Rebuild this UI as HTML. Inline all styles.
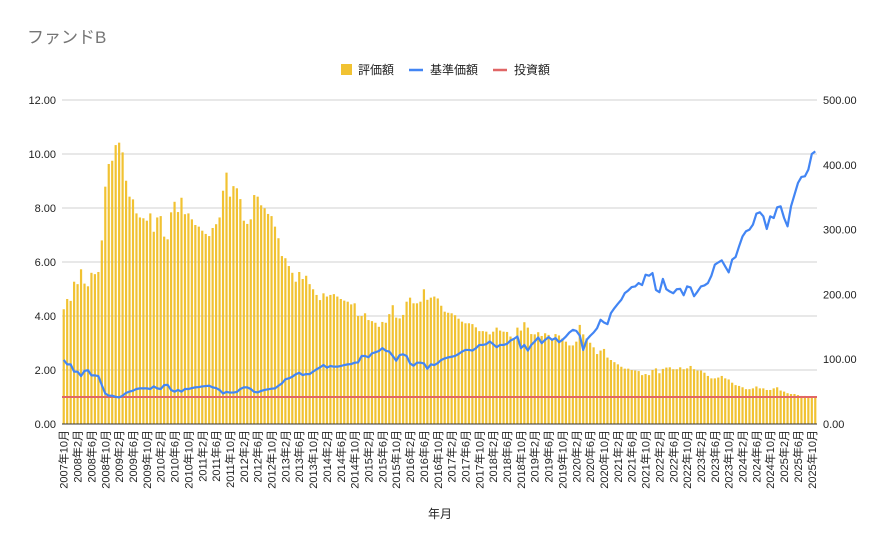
<!DOCTYPE html>
<html><head><meta charset="utf-8">
<style>
html,body{margin:0;padding:0;background:#fff;}
svg{display:block;font-family:"Liberation Sans","Noto Sans CJK JP",sans-serif;}
</style></head>
<body>
<svg id="chart" width="886" height="548" viewBox="0 0 886 548" xmlns="http://www.w3.org/2000/svg">
<rect width="886" height="548" fill="#fff"/>
<text x="27" y="43" font-size="17" fill="#757575">ファンドB</text>
<g font-size="12" fill="#222">
 <g><rect x="341" y="64" width="11" height="11" fill="#f1c232"/><text x="358" y="74">評価額</text></g>
 <g><line x1="409" y1="70" x2="423" y2="70" stroke="#4285f4" stroke-width="2.5"/><text x="430" y="74">基準価額</text></g>
 <g><line x1="493" y1="70" x2="507" y2="70" stroke="#e06666" stroke-width="2.5"/><text x="514" y="74">投資額</text></g>
</g>
<g id="grid"></g><g id="bars"></g><g id="lines"></g><g id="axes"></g>
<text x="440" y="518" font-size="12" text-anchor="middle" fill="#222">年月</text>
</svg>
<script>
const valuation = [4.25,4.63,4.56,5.27,5.18,5.73,5.2,5.1,5.6,5.55,5.63,6.8,8.79,9.63,9.75,10.33,10.42,10.06,9.01,8.42,8.32,7.8,7.65,7.62,7.53,7.8,7.12,7.65,7.7,6.94,6.84,7.84,8.23,7.85,8.38,7.77,7.8,7.58,7.37,7.31,7.16,7.04,6.96,7.26,7.4,7.65,8.64,9.31,8.42,8.81,8.73,8.33,7.53,7.41,7.58,8.48,
8.42,8.1,7.99,7.78,7.7,7.31,6.88,6.22,6.14,5.85,5.6,5.27,5.63,5.37,5.49,5.18,4.99,4.78,4.59,4.84,4.72,4.78,4.81,4.72,4.63,4.57,4.53,4.43,4.47,4.0,4.0,4.1,3.85,3.81,3.75,3.6,3.78,3.75,4.07,4.4,3.94,3.91,4.04,4.53,4.68,4.47,4.47,4.53,4.99,4.6,4.68,4.72,4.65,
4.38,4.16,4.12,4.1,4.03,3.9,3.79,3.73,3.73,3.7,3.58,3.44,3.44,3.42,3.32,3.42,3.57,3.46,3.42,3.41,3.24,3.17,3.57,3.46,3.77,3.57,3.33,3.32,3.4,3.26,3.36,3.3,3.17,3.33,3.28,3.17,3.05,2.91,2.91,3.05,3.67,3.32,3.17,3.01,2.84,2.59,2.72,2.78,2.46,2.37,2.29,2.21,2.12,2.05,2.05,
2.0,1.98,1.96,1.81,1.85,1.81,2.0,2.06,1.88,2.04,2.09,2.1,2.03,2.03,2.1,2.03,2.06,2.15,2.03,1.98,1.98,1.9,1.78,1.69,1.69,1.72,1.78,1.69,1.65,1.53,1.44,1.41,1.36,1.29,1.29,1.32,1.39,1.32,1.32,1.26,1.26,1.32,1.36,1.24,1.2,1.14,1.11,1.11,1.07,1.04,1.04,1.01,1.01,1.01];
const nav = [98.8,92,92,80.7,80.7,74,82,83,75,75,74,60,47,43.7,43.7,42,41,43.7,48,50,51.5,54,55,55,55,54,58,55,54,60,60.5,52.5,50,52.5,50,54,54,55.5,56.5,57,58,58.5,59,56.5,55.5,52.5,47,49.5,48.5,48.5,49.5,54,56.5,56.5,54,49.5,
48.8,51,52.5,53.5,54.5,55,59,62.7,69,70.5,73,76.7,79,75.5,77,77,80.8,84.4,87.5,91,87,89.5,88.5,88.5,89.5,91,92,92.5,94.6,95,104.9,104.9,103,109,110.7,112.7,117,113,111.8,105,97.7,106.4,107.5,105,93.5,90,94.6,94.6,93.5,85.3,92,91,94,
98.8,101.2,102.8,103.8,105,108,111.7,114.3,114.3,113.3,116.9,122,122,123.2,127.3,123.2,118.6,122,122,123.7,128.8,131.4,135,116.9,122,113.3,122,127.3,133.5,124.7,129.9,134,129.9,132.5,126.3,129.9,135,141.2,145.3,143.7,136.5,114.3,129.9,136,141.2,147.9,160.8,156.7,154.1,171.1,178.8,185.5,191.7,202,206.1,
211.3,212.3,217.5,214.4,230.4,228.8,232.9,206.9,203.3,223.9,208,204.4,201.8,208,208.5,198.7,212.3,210.7,197.1,204.4,212.3,213.8,217.5,228.8,245.8,249.4,252.5,243.2,234,253.6,257.7,274.2,289.6,297.4,300,307.7,324.6,326.7,320.5,301,320.5,317.9,334.4,335.9,317.9,305,335.9,353.9,371.9,381.2,382.2,392.5,416.6,420.7];
const investment = 1.0;
const leftTicks = [0,2,4,6,8,10,12];
const rightTicks = [0,100,200,300,400,500];
const startYear = 2007, startMonth = 10;

const NS="http://www.w3.org/2000/svg";
const L=62,R=817,T=100,B=424;
const n=valuation.length, band=(R-L)/n;
const xC=i=>L+band*(i+0.5);
const yL=v=>B-(v/12)*(B-T);
const yR=v=>B-(v/500)*(B-T);
function mk(tag,attrs,parent){const e=document.createElementNS(NS,tag);for(const k in attrs)e.setAttribute(k,attrs[k]);parent.appendChild(e);return e;}
const grid=document.getElementById('grid'),bars=document.getElementById('bars'),lines=document.getElementById('lines'),axes=document.getElementById('axes');
leftTicks.forEach(t=>{
  if(t>0){const g=mk('line',{x1:L,x2:R,y1:yL(t),y2:yL(t),stroke:'#d0d0d0','stroke-width':1},grid);
  
  }
  const tx=mk('text',{x:56,y:yL(t)+4,'text-anchor':'end','font-size':11,fill:'#222'},axes);
  tx.textContent=t.toFixed(2);
  
  
});
rightTicks.forEach(t=>{
  const tx=mk('text',{x:823,y:yR(t)+4,'text-anchor':'start','font-size':11,fill:'#222'},axes);
  tx.textContent=t.toFixed(2);
  
  
});
valuation.forEach((v,i)=>{
  const r=mk('rect',{x:xC(i)-1.1,y:yL(v),width:2.2,height:B-yL(v),fill:'#f1c232'},bars);
  
  
});
const inv=mk('line',{x1:L,x2:R,y1:yL(investment),y2:yL(investment),stroke:'#e06666','stroke-width':2},lines);


const p=mk('polyline',{points:nav.map((v,i)=>xC(i).toFixed(2)+','+yR(v).toFixed(2)).join(' '),fill:'none',stroke:'#4285f4','stroke-width':2.2,'stroke-linejoin':'round'},lines);


const base=mk('line',{x1:L,x2:R,y1:B,y2:B,stroke:'#333','stroke-width':1},axes);


for(let i=0;i<n;i+=4){
  const m=startMonth-1+i, yr=startYear+Math.floor(m/12), mo=(m%12)+1;
  const x=xC(i)+4, y=430;
  const tx=mk('text',{x:x,y:y,'text-anchor':'end','font-size':11,fill:'#222',transform:`rotate(-90 ${x} ${y})`},axes);
  tx.textContent=`${yr}年${mo}月`;
  
  
}
</script>
</body></html>
